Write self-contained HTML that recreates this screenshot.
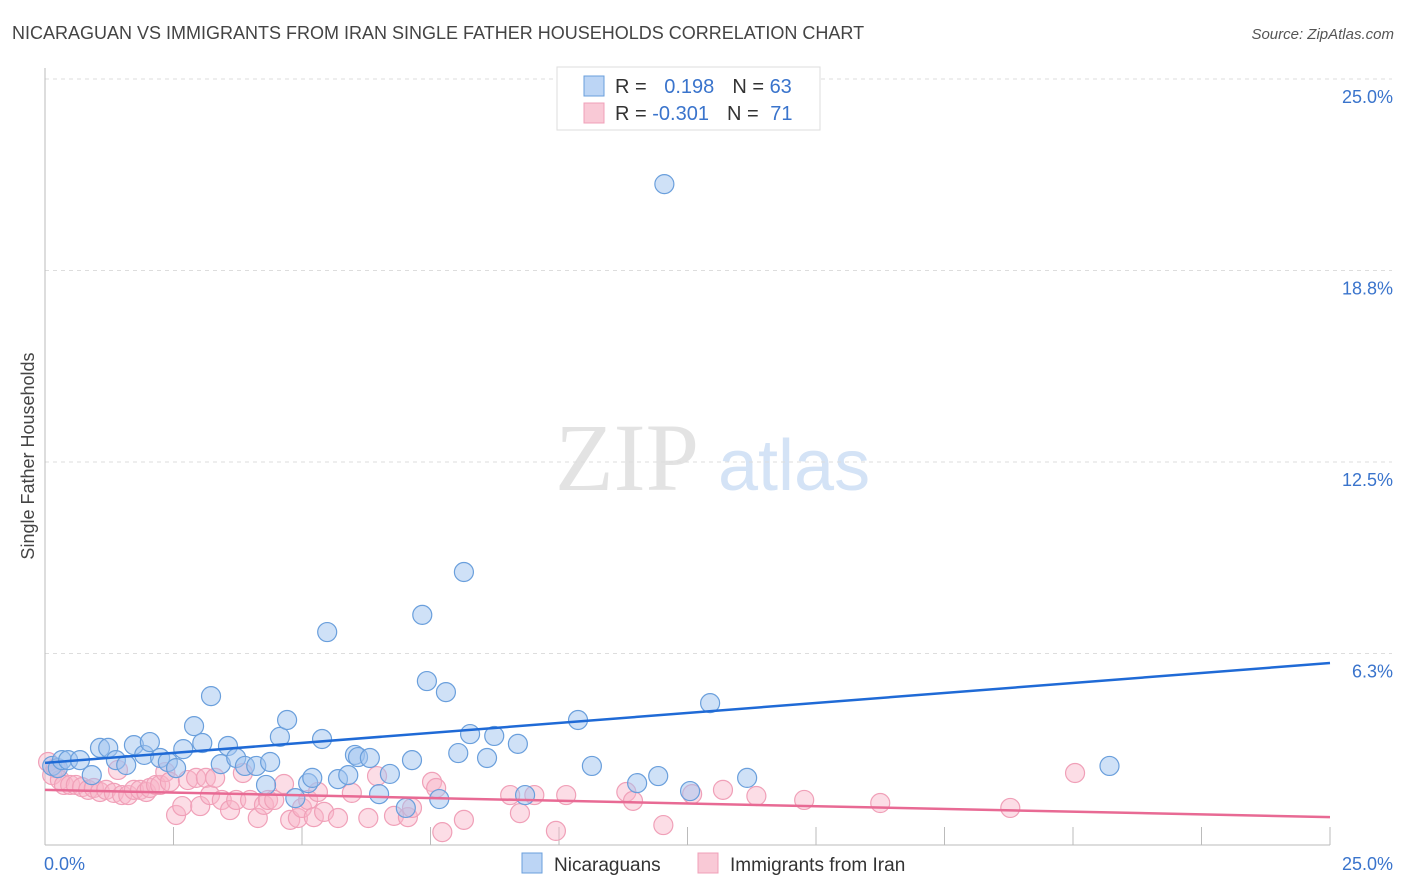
<!DOCTYPE html>
<html><head><meta charset="utf-8"><style>
body{margin:0;background:#fff;font-family:"Liberation Sans",sans-serif}
</style></head><body>
<svg id="c" width="1406" height="892" style="display:block">
<text x="12" y="39" font-size="18" fill="#444">NICARAGUAN VS IMMIGRANTS FROM IRAN SINGLE FATHER HOUSEHOLDS CORRELATION CHART</text>
<text x="1394" y="39" font-size="15" fill="#555" font-style="italic" text-anchor="end">Source: ZipAtlas.com</text>
<text transform="translate(34,456) rotate(-90)" font-size="18" fill="#444" text-anchor="middle">Single Father Households</text>
<g><text x="555" y="490" font-size="96" fill="#e3e3e3" font-family="Liberation Serif,serif">ZIP</text><text x="718" y="490" font-size="72" fill="#d4e3f6">atlas</text></g>
<g id="grid"></g><g id="axes"></g><g id="pts"></g><g id="lines"></g>
<g>
<rect x="557" y="67" width="263" height="63" fill="#fff" stroke="#ddd"/>
<rect x="584" y="76" width="20" height="20" fill="#bcd5f5" stroke="#6a9fdc"/>
<rect x="584" y="103" width="20" height="20" fill="#f9c9d6" stroke="#f0a0b8"/>
<text x="615" y="93" font-size="20" fill="#333">R = <tspan fill="#3a74cc" dx="12">0.198</tspan><tspan dx="18" fill="#333">N = </tspan><tspan fill="#3a74cc">63</tspan></text>
<text x="615" y="120" font-size="20" fill="#333">R = <tspan fill="#3a74cc">-0.301</tspan><tspan dx="18" fill="#333">N = </tspan><tspan fill="#3a74cc" dx="6">71</tspan></text>
</g>
<g>
<rect x="522" y="853" width="20" height="20" fill="#bcd5f5" stroke="#6a9fdc"/>
<text x="554" y="871" font-size="19" fill="#333">Nicaraguans</text>
<rect x="698" y="853" width="20" height="20" fill="#f9c9d6" stroke="#f0a0b8"/>
<text x="730" y="871" font-size="19" fill="#333">Immigrants from Iran</text>
</g>
</svg>
<script>
const blueX=[0.14,0.25,0.33,0.45,0.68,0.91,1.07,1.23,1.38,1.58,1.73,1.93,2.04,2.24,2.39,2.55,2.69,2.90,3.06,3.23,3.42,3.56,3.72,3.89,4.11,4.30,4.38,4.57,4.71,4.87,5.12,5.20,5.39,5.49,5.70,5.90,6.03,6.09,6.32,6.50,6.71,7.02,7.14,7.34,7.43,7.67,7.80,8.04,8.15,8.27,8.60,8.74,9.20,9.34,10.37,10.64,11.52,11.93,12.05,12.55,12.94,13.66,20.71];
const blueY=[2.58,2.51,2.77,2.77,2.77,2.28,3.17,3.17,2.77,2.61,3.26,2.94,3.36,2.84,2.71,2.51,3.13,3.88,3.33,4.86,2.64,3.23,2.84,2.58,2.58,1.96,2.71,3.53,4.08,1.53,2.02,2.19,3.46,6.95,2.15,2.28,2.94,2.87,2.84,1.66,2.32,1.21,2.77,7.51,5.35,1.50,4.99,3.00,8.91,3.62,2.84,3.56,3.30,1.63,4.08,2.58,2.02,2.25,21.57,1.76,4.63,2.19,2.58];
const pinkX=[0.06,0.14,0.21,0.29,0.37,0.49,0.60,0.72,0.84,0.95,1.07,1.19,1.34,1.42,1.50,1.62,1.73,1.85,1.97,2.04,2.16,2.24,2.34,2.43,2.55,2.67,2.78,2.94,3.02,3.13,3.21,3.31,3.44,3.60,3.72,3.85,3.99,4.14,4.26,4.34,4.46,4.65,4.77,4.92,5.00,5.12,5.23,5.31,5.43,5.70,5.97,6.29,6.46,6.79,7.06,7.14,7.53,7.61,7.73,8.15,9.05,9.24,9.52,9.94,10.14,11.31,11.44,12.03,12.59,13.19,13.84,14.77,16.25,18.78,20.04];
const pinkY=[2.71,2.28,2.51,2.12,1.96,1.96,1.96,1.89,1.80,1.86,1.73,1.80,1.70,2.45,1.63,1.63,1.80,1.80,1.73,1.86,1.96,1.96,2.38,2.06,0.98,1.27,2.12,2.19,1.27,2.19,1.63,2.19,1.47,1.14,1.47,2.35,1.47,0.88,1.31,1.47,1.47,1.99,0.82,0.88,1.21,1.47,0.91,1.73,1.08,0.88,1.70,0.88,2.25,0.95,0.91,1.21,2.06,1.86,0.42,0.82,1.63,1.04,1.63,0.46,1.63,1.73,1.44,0.65,1.66,1.80,1.60,1.47,1.37,1.21,2.35];
const blueTrend=[2.68,5.94];
const pinkTrend=[1.80,0.91];
const yTicks=[6.25,12.5,18.75,25];
const yTickLabels=["6.3%","12.5%","18.8%","25.0%"];
const xTicks=[2.5,5,7.5,10,12.5,15,17.5,20,22.5,25];
const NS='http://www.w3.org/2000/svg';
const X=v=>45+v/25*1285, Y=v=>845-v/25*766;
function mk(p,t,a){const e=document.createElementNS(NS,t);for(const k in a)e.setAttribute(k,a[k]);document.getElementById(p).appendChild(e);return e;}
yTicks.forEach((t,i)=>{
 const g=mk('grid','line',{x1:45,x2:1392,y1:Y(t),y2:Y(t),stroke:'#ddd','stroke-dasharray':'4,4'});
 
 
 const l=mk('grid','text',{x:1393,y:Y(t)+24,'font-size':18,fill:'#3a74cc','text-anchor':'end'});
 l.textContent=yTickLabels[i];
 
 
});
let a=mk('axes','line',{x1:45,x2:45,y1:68,y2:845,stroke:'#bbb'});


a=mk('axes','line',{x1:45,x2:1330,y1:845,y2:845,stroke:'#bbb'});


xTicks.forEach(t=>{const e=mk('axes','line',{x1:X(t),x2:X(t),y1:827,y2:845,stroke:'#bbb'});
 
 });
let t0=mk('axes','text',{x:44,y:870,'font-size':18,fill:'#3a74cc'});t0.textContent='0.0%';


let t1=mk('axes','text',{x:1393,y:870,'font-size':18,fill:'#3a74cc','text-anchor':'end'});t1.textContent='25.0%';


pinkX.forEach((x,i)=>{const c=mk('pts','circle',{cx:X(x),cy:Y(pinkY[i]),r:9.5,fill:'rgba(248,180,200,0.45)',stroke:'#f0a0b8','stroke-width':1.2});
 
 });
blueX.forEach((x,i)=>{const c=mk('pts','circle',{cx:X(x),cy:Y(blueY[i]),r:9.5,fill:'rgba(160,196,240,0.5)',stroke:'#6a9fdc','stroke-width':1.2});
 
 });
let bl=mk('lines','line',{x1:X(0),y1:Y(blueTrend[0]),x2:X(25),y2:Y(blueTrend[1]),stroke:'#1f6ad6','stroke-width':2.5});


let pl=mk('lines','line',{x1:X(0),y1:Y(pinkTrend[0]),x2:X(25),y2:Y(pinkTrend[1]),stroke:'#e86a94','stroke-width':2.5});


</script>
</body></html>
